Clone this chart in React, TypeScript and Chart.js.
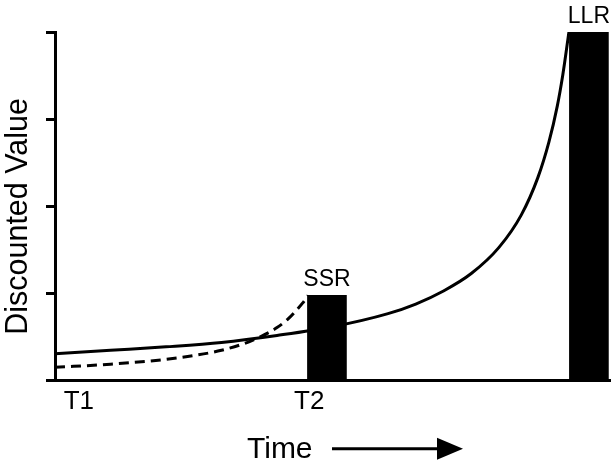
import React, { useEffect, useRef } from "react";
import { Chart, registerables } from "chart.js";

Chart.register(...registerables);

// ---- data ----
const xTickValues = [4.3, 45.8];
const xTickLabels = ["T1", "T2"];
const rewardLabels = ["SSR", "LLR"];
const rewardTimes = [49.0, 96.2];
const rewardValues = [0.98, 4];
const solidTimes = [0, 10, 20, 30, 40, 50, 60, 65, 70, 75, 80, 84, 87, 89, 90.5, 91.5, 92.6];
const solidValues = [0.31, 0.35, 0.39, 0.44, 0.52, 0.62, 0.77, 0.88, 1.03, 1.23, 1.53, 1.9, 2.33, 2.74, 3.15, 3.51, 4.0];
const dashedTimes = [0, 10, 20, 25, 30, 34, 37, 40, 42, 43.5, 44.6, 45.6];
const dashedValues = [0.155, 0.19, 0.246, 0.289, 0.35, 0.425, 0.505, 0.61, 0.71, 0.81, 0.89, 0.98];
const xAxisTitle = "Time";
const yAxisTitle = "Discounted Value";

const FONT = "'Liberation Sans', Arial, Helvetica, sans-serif";

const annotate = {
  id: "annotate",
  afterDatasetsDraw(chart: any) {
    const ctx = chart.ctx;
    const meta = chart.getDatasetMeta(0);
    ctx.save();
    ctx.fillStyle = "#000";
    ctx.font = `23px ${FONT}`;
    ctx.textAlign = "center";
    ctx.textBaseline = "alphabetic";
    meta.data.forEach((bar: any, i: number) => {
      ctx.fillText(rewardLabels[i], bar.x, bar.y - 9);
    });
    ctx.restore();
  },
  afterDraw(chart: any) {
    const ctx = chart.ctx;
    const area = chart.chartArea;
    ctx.save();
    ctx.fillStyle = "#000";
    ctx.strokeStyle = "#000";
    // y-axis title
    ctx.save();
    ctx.font = `30.5px ${FONT}`;
    ctx.textAlign = "center";
    ctx.textBaseline = "alphabetic";
    ctx.translate(27, (area.top + area.bottom) / 2 + 10);
    ctx.rotate(-Math.PI / 2);
    ctx.fillText(yAxisTitle, 0, 0);
    ctx.restore();
    // x-axis title with arrow
    const baseY = area.bottom + 77;
    ctx.font = `30px ${FONT}`;
    ctx.textAlign = "left";
    ctx.textBaseline = "alphabetic";
    ctx.fillText(xAxisTitle, 247, baseY);
    const ay = area.bottom + 68;
    ctx.lineWidth = 3;
    ctx.beginPath();
    ctx.moveTo(332, ay);
    ctx.lineTo(440, ay);
    ctx.stroke();
    ctx.beginPath();
    ctx.moveTo(463, ay);
    ctx.lineTo(437, ay - 11);
    ctx.lineTo(437, ay + 11);
    ctx.closePath();
    ctx.fill();
    ctx.restore();
  },
};

export default function App() {
  const ref = useRef<HTMLCanvasElement | null>(null);
  useEffect(() => {
    if (!ref.current) return;
    Chart.defaults.font.family = FONT;
    Chart.defaults.color = "#000";
    const chart = new Chart(ref.current, {
      type: "bar",
      data: {
        datasets: [
          {
            type: "bar",
            data: rewardTimes.map((t, i) => ({ x: t, y: rewardValues[i] })),
            backgroundColor: "#000",
            borderWidth: 0,
            barThickness: 39,
            order: 0,
          } as any,
          {
            type: "line",
            data: solidTimes.map((t, i) => ({ x: t, y: solidValues[i] })),
            borderColor: "#000",
            borderWidth: 3,
            pointRadius: 0,
            cubicInterpolationMode: "monotone",
            fill: false,
            order: 1,
          } as any,
          {
            type: "line",
            data: dashedTimes.map((t, i) => ({ x: t, y: dashedValues[i] })),
            borderColor: "#000",
            borderWidth: 3,
            borderDash: [10, 6],
            pointRadius: 0,
            cubicInterpolationMode: "monotone",
            fill: false,
            order: 1,
          } as any,
        ],
      },
      options: {
        animation: false,
        responsive: true,
        maintainAspectRatio: false,
        layout: { padding: { left: 0, top: 32, right: 4, bottom: 41 } },
        plugins: { legend: { display: false }, tooltip: { enabled: false } },
        scales: {
          x: {
            type: "linear",
            min: 0,
            max: 100,
            offset: false,
            grid: { display: false, drawTicks: false, offset: false },
            border: { display: true, width: 3, color: "#000" },
            afterBuildTicks: (s: any) => {
              s.ticks = xTickValues.map((v) => ({ value: v }));
            },
            ticks: {
              autoSkip: false,
              maxRotation: 0,
              padding: 5,
              color: "#000",
              font: { size: 26 },
              callback: (_v: any, i: number) => xTickLabels[i],
            },
          },
          y: {
            min: 0,
            max: 4,
            grid: {
              display: true,
              drawOnChartArea: false,
              drawTicks: true,
              tickLength: 9,
              tickWidth: 3,
              lineWidth: 3,
              tickColor: "#000",
              color: "#000",
            },
            border: { display: true, width: 3, color: "#000" },
            ticks: { display: false, stepSize: 1 },
            title: {
              display: true,
              text: yAxisTitle,
              color: "rgba(0,0,0,0)",
              font: { size: 30, lineHeight: 1 },
              padding: { top: 2, bottom: 14 },
            },
          },
        },
      },
      plugins: [annotate],
    } as any);
    return () => chart.destroy();
  }, []);
  return (
    <div style={{ position: "absolute", left: 0, top: 0, width: 614, height: 463 }}>
      <canvas ref={ref} />
    </div>
  );
}
